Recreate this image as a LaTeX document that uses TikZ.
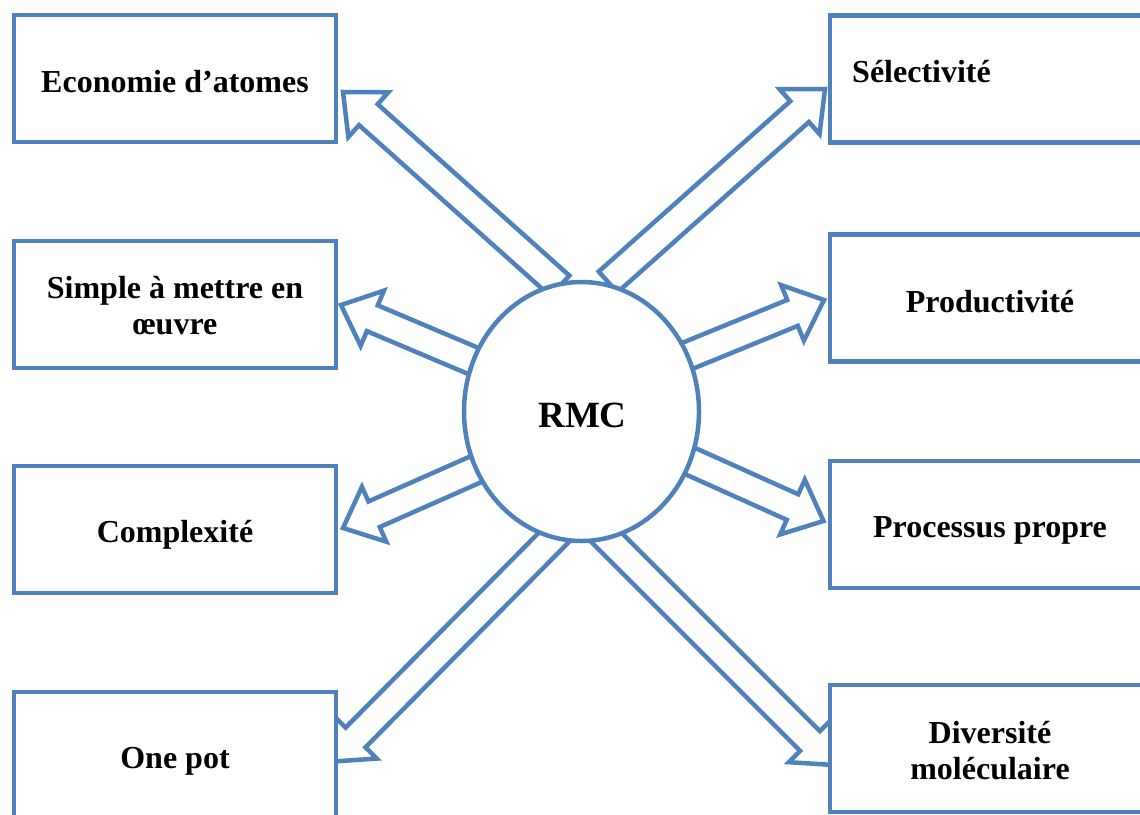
\documentclass[tikz,border=0pt]{standalone}
\usepackage{fontspec}
\setmainfont{Liberation Serif}
\usetikzlibrary{calc}
\definecolor{rmcblue}{RGB}{79,129,189}
\tikzset{
  boxnode/.style={draw=rmcblue, line width=4.5pt, fill=white, rectangle,
    minimum width=322pt, minimum height=127pt, inner sep=0pt, outer sep=0pt},
  lbl/.style={font=\fontsize{32}{36}\selectfont\bfseries, inner sep=0pt, align=center, anchor=base},
  arrowline/.style={draw=rmcblue, line width=4.5pt, line join=miter, fill=white},
  hubline/.style={draw=rmcblue, line width=4.5pt, fill=white},
}
\newcommand\blkarrow[3]{% #1 prefix, #2 tip, #3 base
  \coordinate (#1h) at ($(#2)!34pt!(#3)$);
  \draw[arrowline] (#2) -- ($(#1h)!30pt!90:(#3)$) -- ($(#1h)!14pt!90:(#3)$)
    -- ($(#3)!14pt!-90:(#2)$) -- ($(#3)!14pt!90:(#2)$)
    -- ($(#1h)!14pt!-90:(#3)$) -- ($(#1h)!30pt!-90:(#3)$) -- cycle;
}
\begin{document}
\begin{tikzpicture}[x=1pt,y=-1pt]
\useasboundingbox (0,0) rectangle (1140,814);
\clip (0,0) rectangle (1140,814);
% arrow tips and bases
\coordinate (t1) at (343,92);    \coordinate (s1) at (560,286);
\coordinate (t2) at (825,89);    \coordinate (s2) at (608,282);
\coordinate (t3) at (341,305);   \coordinate (s3) at (516,379);
\coordinate (t4) at (343,528);   \coordinate (s4) at (517,451);
\coordinate (t5) at (824,300);   \coordinate (s5) at (648,372);
\coordinate (t6) at (823.5,521); \coordinate (s6) at (650,443);
\coordinate (t7) at (331.6,761.6); \coordinate (s7) at (579,512);
\coordinate (t8) at (834,765);   \coordinate (s8) at (582,513);
\blkarrow{a1}{t1}{s1}
\blkarrow{a2}{t2}{s2}
\blkarrow{a3}{t3}{s3}
\blkarrow{a4}{t4}{s4}
\blkarrow{a5}{t5}{s5}
\blkarrow{a6}{t6}{s6}
\blkarrow{a7}{t7}{s7}
\blkarrow{a8}{t8}{s8}
% hub
\coordinate (hubc) at (581.5,411.5);
\draw[hubline] (hubc) ellipse [x radius=117.5, y radius=129.5];
\node[lbl, font=\fontsize{37}{40}\selectfont\bfseries] (rmc) at (582.5,427) {RMC};
% left boxes
\node[boxnode] (L1) at (175,78.5) {};
\node[boxnode] (L2) at (175,304.5) {};
\node[boxnode] (L3) at (175,529.5) {};
\node[boxnode] (L4) at (175,755.5) {};
% right boxes
\node[boxnode] (R1) at (991,79) {};
\node[boxnode] (R2) at (991,298) {};
\node[boxnode] (R3) at (991,524.5) {};
\node[boxnode] (R4) at (991,748.5) {};
% labels
\node[lbl] (l1) at (175,92) {Economie d’atomes};
\node[lbl] (l2) at (175,334) {Simple à mettre en\\œuvre};
\node[lbl] (l3) at (175,542) {Complexité};
\node[lbl] (l4) at (175,768) {One pot};
\node[lbl, anchor=base west] (r1) at (852,82) {Sélectivité};
\node[lbl] (r2) at (990,312) {Productivité};
\node[lbl] (r3) at (990,537) {Processus propre};
\node[lbl] (r4) at (990,779) {Diversité\\moléculaire};
\end{tikzpicture}
\end{document}
